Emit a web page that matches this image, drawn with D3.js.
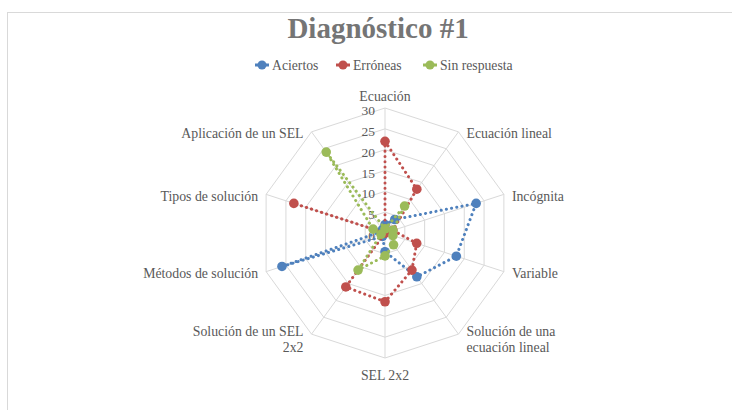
<!DOCTYPE html>
<html>
<head>
<meta charset="utf-8">
<script src="https://cdn.jsdelivr.net/npm/d3@7"></script>
<style>
  body { margin: 0; background: #fff; }
  text { font-family: "Liberation Serif", "DejaVu Serif", serif; }
</style>
</head>
<body>
<div class="chart"></div>
<script>
// categories (clockwise from the top)
const categories = ["Ecuación", "Ecuación lineal", "Incógnita", "Variable",
  "Solución de una ecuación lineal", "SEL 2x2", "Solución de un SEL 2x2",
  "Métodos de solución", "Tipos de solución", "Aplicación de un SEL"]

// series values
const aciertos   = [2, 4, 23, 18, 13, 4.5, 1, 26, 1, 1]
const erroneas   = [22, 13, 2, 8, 11, 16.5, 16, 0, 23, 0]
const sinResp    = [1, 8, 2, 2, 3.5, 5.5, 11, 1, 3, 24]

const seriesNames = ["Aciertos", "Erróneas", "Sin respuesta"]
const ticks = [0, 5, 10, 15, 20, 25, 30]

const w = 732
const h = 410
const cx = 385, cy = 233
const R = 125
const colors = ["#4F81BD", "#C0504D", "#9BBB59"]

const svg = d3.select(".chart").append("svg")
  .attr("width", w).attr("height", h)

// chart area frame
svg.append("rect")
  .attr("x", 7.5).attr("y", 12.5)
  .attr("width", w + 20).attr("height", h + 20)
  .attr("fill", "none").attr("stroke", "#D9D9D9")

// scales
const rScale = d3.scaleLinear().domain([0, 30]).range([0, R])
const aScale = d3.scaleLinear().domain([0, categories.length]).range([0, 2 * Math.PI])
const px = (i, v) => cx + rScale(v) * Math.sin(aScale(i))
const py = (i, v) => cy - rScale(v) * Math.cos(aScale(i))

const g = svg.append("g")

// rings
ticks.slice(1).forEach(t => {
  g.append("polygon")
    .attr("points", categories.map((c, i) => [px(i, t), py(i, t)].join(",")).join(" "))
    .attr("fill", "none").attr("stroke", "#D9D9D9").attr("stroke-width", 1)
})
// spokes
categories.forEach((c, i) => {
  g.append("line")
    .attr("x1", cx).attr("y1", cy)
    .attr("x2", px(i, 30)).attr("y2", py(i, 30))
    .attr("stroke", "#D9D9D9").attr("stroke-width", 1)
})

// tick labels
g.selectAll(".tick").data(ticks).enter().append("text")
  .attr("x", cx - 10)
  .attr("y", d => cy - rScale(d) + 7)
  .attr("text-anchor", "end")
  .attr("font-size", 13.5)
  .attr("fill", "#595959")
  .text(d => d)

// category labels
const labelLines = [["Ecuación"], ["Ecuación lineal"], ["Incógnita"], ["Variable"],
  ["Solución de una", "ecuación lineal"], ["SEL 2x2"], ["Solución de un SEL", "2x2"],
  ["Métodos de solución"], ["Tipos de solución"], ["Aplicación de un SEL"]]
labelLines.forEach((lines, i) => {
  const s = Math.sin(aScale(i)), co = Math.cos(aScale(i))
  let anchor = Math.abs(s) < 0.01 ? "middle" : (s > 0 ? "start" : "end")
  let x = px(i, 30) + (anchor == "middle" ? 0 : (s > 0 ? 8 : -8))
  let y = py(i, 30) + 2
  if (anchor == "middle") y = co > 0 ? py(i, 30) - 12 : py(i, 30) + 17
  if (lines.length > 1) y -= 5
  const t = g.append("text")
    .attr("x", x).attr("y", y + 4.5)
    .attr("text-anchor", anchor)
    .attr("font-size", 13.8)
    .attr("fill", "#595959")
  lines.forEach((l, k) => t.append("tspan").attr("x", x).attr("dy", k ? 16 : 0).text(l))
})

// series
const allSeries = [aciertos, erroneas, sinResp]
const line = d3.lineRadial()
  .angle((d, i) => aScale(i))
  .radius(d => rScale(d))
  .curve(d3.curveLinearClosed)

allSeries.forEach((vals, k) => {
  const sg = g.append("g").attr("transform", `translate(${cx},${cy})`)
  sg.append("path")
    .attr("d", line(vals))
    .attr("fill", "none")
    .attr("stroke", colors[k])
    .attr("stroke-width", 3)
    .attr("stroke-linecap", "round")
    .attr("stroke-dasharray", "0.1 5.2")
  sg.selectAll("circle").data(vals).enter().append("circle")
    .attr("cx", (d, i) => px(i, d) - cx)
    .attr("cy", (d, i) => py(i, d) - cy)
    .attr("r", 4.8)
    .attr("fill", colors[k])
})

// title
svg.append("text")
  .attr("x", 378).attr("y", 38)
  .attr("text-anchor", "middle")
  .attr("font-size", 29)
  .attr("font-weight", "bold")
  .attr("fill", "#757575")
  .text("Diagnóstico #1")

// legend
const legX = [262, 343, 430]
seriesNames.forEach((n, k) => {
  const lg = svg.append("g").attr("transform", `translate(${legX[k]},65)`)
  lg.append("line").attr("x1", -7).attr("x2", 7)
    .attr("stroke", colors[k]).attr("stroke-width", 3)
  lg.append("circle").attr("r", 4.5).attr("fill", colors[k])
  lg.append("text").attr("x", 10).attr("y", 4.5)
    .attr("font-size", 13.7).attr("fill", "#595959").text(n)
})
</script>
</body>
</html>
